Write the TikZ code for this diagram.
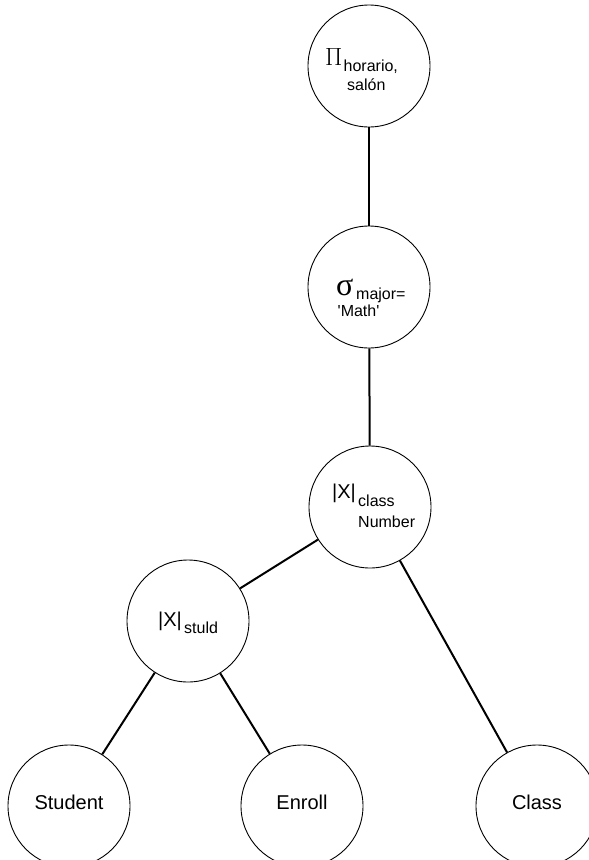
\documentclass[tikz,border=0pt]{standalone}
\usepackage{fontspec}
\setmainfont{Liberation Sans}
\newfontfamily\greekserif{Liberation Serif}
\begin{document}
\begin{tikzpicture}[x=1pt,y=-1pt,
  op/.style={circle, draw, line width=0.9pt, minimum size=122pt, inner sep=0pt},
  edge/.style={line width=2pt, draw=black},
  txt/.style={inner sep=0pt, anchor=base west},
  big/.style={txt, font=\fontsize{20}{24}\selectfont},
  small/.style={txt, font=\fontsize{16}{19}\selectfont},
  leaf/.style={inner sep=0pt, anchor=base, font=\fontsize{20}{24}\selectfont}]
\useasboundingbox (0,0) rectangle (589,860);
% operator circles
\node[op] (proj) at (369,66) {};
\node[op] (sel) at (369,287) {};
\node[op] (join1) at (370,507) {};
\node[op] (join2) at (188,621) {};
\node[op] (student) at (69,806) {};
\node[op] (enroll) at (302,806) {};
\node[op] (class) at (537,806) {};
% connectors
\draw[edge] (proj) -- (sel);
\draw[edge] (sel) -- (join1);
\draw[edge] (join1) -- (join2);
\draw[edge] (join1) -- (class);
\draw[edge] (join2) -- (student);
\draw[edge] (join2) -- (enroll);
% labels
\node[txt, font=\fontsize{23}{26}\selectfont] (pi) at (325,65) {$\Pi$};
\node[small] (pisub) at (343.5,71) {horario,};
\node[small] (pisub2) at (347,90) {salón};
\node[txt, font=\greekserif\fontsize{32}{34}\selectfont] (sigma) at (336,295) {σ};
\node[small] (sigsub) at (356,299) {major=};
\node[small] (sigsub2) at (337.5,316) {\textquotesingle Math\textquotesingle};
\node[big] (x1) at (332,498) {|X|};
\node[small] (x1sub) at (358,506.5) {class};
\node[small] (x1sub2) at (358,527) {Number};
\node[big] (x2) at (158,626) {|X|};
\node[small] (x2sub) at (184,633) {stuld};
\node[leaf] (studentlbl) at (69,809) {Student};
\node[leaf] (enrolllbl) at (302,809) {Enroll};
\node[leaf] (classlbl) at (537,809) {Class};
\end{tikzpicture}
\end{document}
